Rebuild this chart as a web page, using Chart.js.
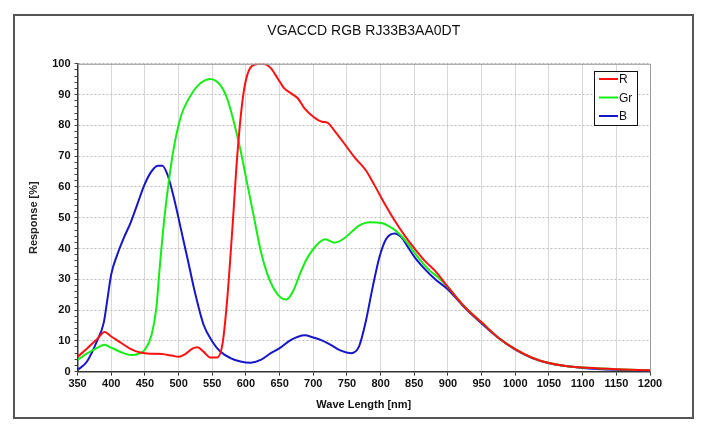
<!DOCTYPE html>
<html>
<head>
<meta charset="utf-8">
<script src="https://cdn.jsdelivr.net/npm/chart.js@4"></script>
<style>
  html, body { margin: 0; padding: 0; background: #fff; }
  #wrap { width: 706px; height: 434px; }
</style>
</head>
<body>
<div id="wrap"><canvas id="specChart" width="706" height="434"></canvas></div>
<script>
/* ========================================
   DATA
======================================== */
const TITLE = "VGACCD RGB RJ33B3AA0DT";
const X_TITLE = "Wave Length [nm]";
const Y_TITLE = "Response [%]";
const SERIES_NAMES = ["R", "Gr", "B"];

const redX = [350,365,380,390,400,415,430,445,460,475,490,500,510,520,528,537,547,557,565,572,580,587,595,602,612,625,637,647,657,667,677,687,700,713,721,731,746,761,778,791,806,821,836,851,866,881,900,925,950,975,1000,1025,1050,1075,1100,1150,1200];
const redY = [4.8,7.7,10.8,12.9,11.4,9.3,7.2,6.1,5.8,5.7,5.2,4.8,5.7,7.4,7.9,6.5,4.6,4.6,8.7,22.9,46.8,69.7,88.2,96.4,99.7,100,98.6,95.3,92,90.4,88.8,85.5,82.8,81.2,80.9,78.4,74.1,69.7,65.4,60.5,54.5,49,44.1,39.8,35.9,32.7,27.5,21,16,11,7.3,4.5,2.8,1.8,1.3,0.8,0.4];

const greenX = [350,365,380,390,400,415,430,440,450,460,467,472,479,487,494,504,514,529,547,562,572,582,592,602,612,622,632,642,652,660,670,680,690,700,708,718,731,744,756,768,784,801,816,828,841,856,871,886,900,925,950,975,1000,1025,1050,1075,1100,1150,1200];
const greenY = [3.8,6,7.8,8.7,7.8,6.3,5.4,5.7,7.1,12,20.7,33.8,50,64.3,74,83.3,88.2,93,95.1,93.1,88.8,81.2,71.9,61,50.1,39.2,31.6,26.7,24,23.4,26.1,31.6,36.5,39.8,41.8,43,41.9,43,45.2,47.4,48.5,48.3,46.8,44.7,41.4,37,33.2,30.5,27.5,21,16,11,7.3,4.5,2.8,1.8,1.3,0.8,0.4];

const blueX = [350,364,379,389,394,400,409,419,429,439,449,459,469,476,484,494,504,514,524,537,550,562,577,592,607,622,637,650,667,687,700,711,726,741,756,768,778,788,798,808,821,831,841,851,866,881,900,925,950,975,1000,1025,1050,1075,1100,1150,1200];
const blueY = [0.5,3.3,10,16,23,31.6,38,43.6,48.5,54.5,60.5,64.8,66.9,66.9,63.7,55.6,45.8,36,26,15.3,9.8,6.5,4.4,3.3,2.9,3.8,6,7.6,10.3,11.8,11.1,10.3,8.7,6.8,6,8.2,16.3,27.2,37,43,44.9,43.6,40.3,37,33.2,30,26.7,20.7,15.6,10.9,7.1,4.4,2.7,1.8,1.2,0.6,0.3];

const COLORS = ["#ff1010", "#14ee14", "#1616c8"];

function toPoints(xs, ys) {
  return xs.map((x, i) => ({ x, y: ys[i] }));
}

/* ========================================
   PLUGINS: frame, plot border, legend box
======================================== */
const framePlugin = {
  id: "frame",
  beforeDraw(chart) {
    const ctx = chart.ctx;
    ctx.save();
    ctx.fillStyle = "#fff";
    ctx.fillRect(0, 0, chart.width, chart.height);
    ctx.strokeStyle = "#555";
    ctx.lineWidth = 2;
    ctx.strokeRect(14, 15, 679, 403);
    ctx.restore();
  },
  afterDatasetsDraw(chart) {
    const { ctx, chartArea: a } = chart;
    ctx.save();
    ctx.strokeStyle = "#9a9a9a";
    ctx.lineWidth = 1;
    ctx.beginPath();
    ctx.moveTo(a.left, a.top + 0.5);
    ctx.lineTo(a.right + 0.5, a.top + 0.5);
    ctx.lineTo(a.right + 0.5, a.bottom);
    ctx.stroke();
    ctx.restore();
  }
};

const legendBoxPlugin = {
  id: "legendBox",
  afterDraw(chart) {
    const ctx = chart.ctx;
    const x0 = 594, y0 = 71, w = 43, h = 54;
    ctx.save();
    ctx.fillStyle = "#fff";
    ctx.fillRect(x0, y0, w, h);
    ctx.strokeStyle = "#111";
    ctx.lineWidth = 1;
    ctx.strokeRect(x0 + 0.5, y0 + 0.5, w, h);
    ctx.font = "12px 'Liberation Sans', Arial, sans-serif";
    ctx.textBaseline = "middle";
    chart.data.datasets.forEach((ds, i) => {
      const y = y0 + 8 + i * 18.5;
      ctx.strokeStyle = ds.borderColor;
      ctx.lineWidth = 2;
      ctx.beginPath();
      ctx.moveTo(x0 + 5, y);
      ctx.lineTo(x0 + 24, y);
      ctx.stroke();
      ctx.fillStyle = "#111";
      ctx.fillText(ds.label, x0 + 25, y + 1);
    });
    ctx.restore();
  }
};

/* ========================================
   CHART
======================================== */
const tickFont = { family: "'Liberation Sans', Arial, sans-serif", size: 11, weight: "bold" };

new Chart(document.getElementById("specChart").getContext("2d"), {
  type: "line",
  data: {
    datasets: [
      { label: SERIES_NAMES[0], data: toPoints(redX, redY), borderColor: COLORS[0] },
      { label: SERIES_NAMES[1], data: toPoints(greenX, greenY), borderColor: COLORS[1] },
      { label: SERIES_NAMES[2], data: toPoints(blueX, blueY), borderColor: COLORS[2] }
    ].map(ds => Object.assign(ds, {
      borderWidth: 2,
      pointRadius: 0,
      fill: false,
      cubicInterpolationMode: "monotone"
    }))
  },
  options: {
    responsive: false,
    animation: false,
    events: [],
    layout: { padding: { left: 27, right: 56, top: 0, bottom: 22 } },
    plugins: {
      legend: { display: false },
      tooltip: { enabled: false },
      title: {
        display: true,
        fullSize: false,
        text: TITLE,
        color: "#111",
        font: { family: "'Liberation Sans', Arial, sans-serif", size: 14, weight: "normal" },
        padding: { top: 23, bottom: 24 }
      }
    },
    scales: {
      x: {
        type: "linear",
        min: 350,
        max: 1200,
        ticks: {
          stepSize: 50,
          color: "#111",
          font: tickFont,
          maxRotation: 0,
          autoSkip: false,
          padding: 2,
          callback: v => String(v)
        },
        grid: {
          color: "#d8d8d8",
          tickColor: "#333",
          tickLength: 4
        },
        border: { color: "#333", width: 1.5 },
        title: {
          display: true,
          text: X_TITLE,
          color: "#111",
          font: tickFont,
          padding: { top: 6, bottom: 0 }
        }
      },
      y: {
        min: 0,
        max: 100,
        ticks: {
          stepSize: 2,
          autoSkip: false,
          color: "#111",
          font: tickFont,
          padding: 4,
          callback: v => (v % 10 === 0 ? String(v) : "")
        },
        grid: {
          color: c => (c.tick && c.tick.value % 10 === 0 && c.tick.value !== 0 ? "#bdbdbd" : "rgba(0,0,0,0)"),
          tickColor: "#444",
          tickLength: 3
        },
        border: { color: "#333", width: 1.5, dash: [2, 2] },
        title: {
          display: true,
          text: Y_TITLE,
          color: "#222",
          font: tickFont,
          padding: { top: 0, bottom: 8 }
        }
      }
    }
  },
  plugins: [framePlugin, legendBoxPlugin]
});
</script>
</body>
</html>
